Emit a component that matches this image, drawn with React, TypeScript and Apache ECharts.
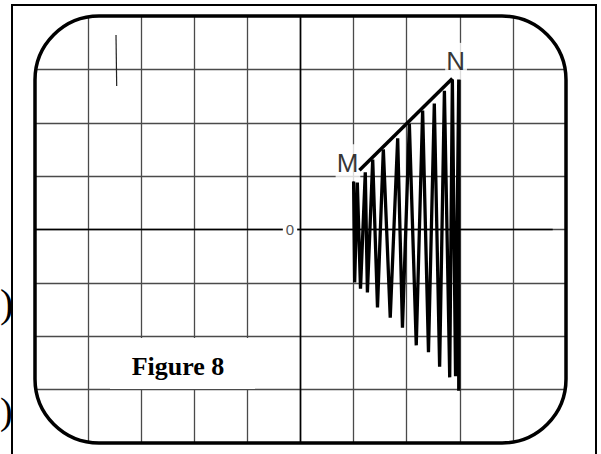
import React, { useEffect, useRef } from "react";
import * as echarts from "echarts";

// Oscilloscope-style figure: grid units (divisions)
const waveX = [1.0, 1.02, 1.07, 1.13, 1.22, 1.26, 1.36, 1.45, 1.56, 1.69, 1.83, 1.92, 2.05, 2.18, 2.3, 2.41, 2.52, 2.62, 2.71, 2.81, 2.86, 2.92, 2.98, 2.98];
const waveY = [0.9, -0.99, 0.88, -1.11, 1.07, -1.18, 1.31, -1.46, 1.5, -1.65, 1.71, -1.84, 1.98, -2.17, 2.23, -2.3, 2.36, -2.57, 2.6, -2.77, 2.81, -2.75, 2.81, -3.02];
const envelopeX = [1.11, 2.86];
const envelopeY = [1.11, 2.83];
const labelNames = ["M", "N"];
const labelX = [0.894, 2.93];
const labelY = [1.25, 3.15];
const centerHX = [-5, 4.75];
const centerVY = [-4, 4];
const zeroLabel = "0";
const figureTitle = "Figure 8";
const sideMarks = [")", ")"];

export default function App() {
  const ref = useRef<HTMLDivElement>(null);
  useEffect(() => {
    if (!ref.current) return;
    const chart = echarts.init(ref.current, null, { renderer: "svg" });
    const axisCommon = {
      type: "value" as const,
      interval: 1,
      axisLine: { show: false },
      axisTick: { show: false },
      axisLabel: { show: false },
      splitLine: {
        show: true,
        showMinLine: false,
        showMaxLine: false,
        lineStyle: { color: "#4a4a4a", width: 1.3 },
      },
    };
    chart.setOption({
      animation: false,
      backgroundColor: "#fff",
      grid: { left: 35, top: 16, width: 531, height: 427, containLabel: false },
      xAxis: { ...axisCommon, min: -5, max: 5 },
      yAxis: { ...axisCommon, min: -4, max: 4 },
      series: [
        {
          type: "line",
          data: centerHX.map((x) => [x, 0]),
          symbol: "none",
          lineStyle: { color: "#000", width: 1.6 },
          z: 3,
        },
        {
          type: "line",
          data: centerVY.map((y) => [0, y]),
          symbol: "none",
          lineStyle: { color: "#000", width: 1.6 },
          z: 3,
        },
        {
          type: "scatter",
          data: labelNames.map((n, i) => ({ name: n, value: [labelX[i], labelY[i]] })),
          symbolSize: 0,
          z: 5,
          label: {
            show: true,
            position: "inside",
            formatter: (p: any) => p.name,
            color: "#000",
            fontSize: 26,
            fontFamily: "Liberation Sans, Arial, sans-serif",
            backgroundColor: "#fff",
            padding: [9, 2, 2, 1],
          },
        },
        {
          type: "line",
          data: waveX.map((x, i) => [x, waveY[i]]),
          symbol: "none",
          lineStyle: { color: "#000", width: 3.3, join: "miter" },
          z: 6,
        },
        {
          type: "line",
          data: envelopeX.map((x, i) => [x, envelopeY[i]]),
          symbol: "none",
          lineStyle: { color: "#000", width: 3.5 },
          z: 7,
        },
      ],
      graphic: [
        {
          type: "polyline",
          z: 100,
          shape: { points: [[12, 460], [12, 5], [596, 5], [596, 460]] },
          style: { stroke: "#000", lineWidth: 2, fill: "none" },
        },
        {
          type: "rect",
          z: 50,
          shape: { x: 110, y: 338, width: 145, height: 51 },
          style: { fill: "#fff" },
        },
        {
          type: "text",
          z: 60,
          x: 178,
          y: 366,
          style: {
            text: figureTitle,
            align: "center",
            verticalAlign: "middle",
            fontSize: 26,
            fontWeight: "bold",
            fontFamily: "Liberation Serif, Times New Roman, serif",
            fill: "#000",
          },
        },
        {
          type: "text",
          z: 60,
          x: 290,
          y: 229,
          style: {
            text: zeroLabel,
            align: "center",
            verticalAlign: "middle",
            fontSize: 15,
            fontFamily: "Liberation Sans, Arial, sans-serif",
            fill: "#555",
            backgroundColor: "#fff",
            padding: [1, 3, 1, 3],
          },
        },
        {
          type: "line",
          z: 60,
          shape: { x1: 116, y1: 35, x2: 116.7, y2: 86 },
          style: { stroke: "#222", lineWidth: 1.2 },
        },
        {
          type: "text",
          z: 60,
          x: 0,
          y: 303,
          style: {
            text: sideMarks[0],
            align: "left",
            verticalAlign: "middle",
            fontSize: 40,
            fontFamily: "Liberation Serif, Times New Roman, serif",
            fill: "#000",
          },
        },
        {
          type: "text",
          z: 60,
          x: 0,
          y: 411,
          style: {
            text: sideMarks[1],
            align: "left",
            verticalAlign: "middle",
            fontSize: 38,
            fontFamily: "Liberation Serif, Times New Roman, serif",
            fill: "#000",
          },
        },
        {
          type: "rect",
          z: 100,
          shape: { x: 35, y: 16, width: 531, height: 427, r: 64 },
          style: { fill: "none", stroke: "#000", lineWidth: 3.5 },
        },
      ],
    });
    return () => chart.dispose();
  }, []);
  return (
    <div
      ref={ref}
      style={{ position: "fixed", left: 0, top: 0, width: 601, height: 454, background: "#fff" }}
    />
  );
}
